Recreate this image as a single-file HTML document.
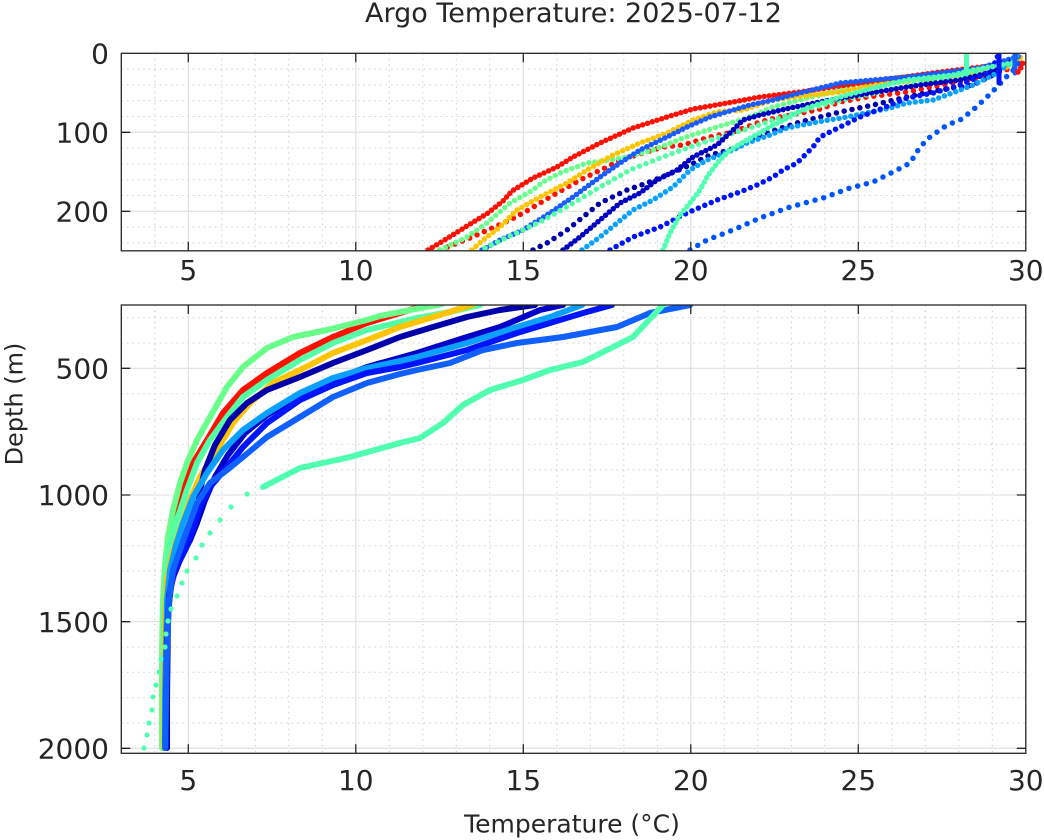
<!DOCTYPE html>
<html><head><meta charset="utf-8"><style>
html,body{margin:0;padding:0;background:#fff;}
svg{display:block;}
text{font-family:"DejaVu Sans","Liberation Sans",sans-serif;fill:#262626;}
</style></head><body>
<svg width="1044" height="840" viewBox="0 0 1044 840" xmlns="http://www.w3.org/2000/svg">
<defs>
<clipPath id="ct"><rect x="121.3" y="53.3" width="904.5" height="197.5"/></clipPath>
<clipPath id="cb"><rect x="121.3" y="305" width="904.5" height="448.3"/></clipPath>
</defs>
<rect width="1044" height="840" fill="#fff"/>

<!-- ===== TOP AXES GRID ===== -->
<g fill="none" stroke="#cdcdcd" stroke-width="1" stroke-dasharray="1.5 4">
<path d="M154.8 53.3V250.8M221.8 53.3V250.8M255.3 53.3V250.8M288.8 53.3V250.8M322.3 53.3V250.8M389.3 53.3V250.8M422.8 53.3V250.8M456.3 53.3V250.8M489.8 53.3V250.8M556.8 53.3V250.8M590.3 53.3V250.8M623.8 53.3V250.8M657.3 53.3V250.8M724.3 53.3V250.8M757.8 53.3V250.8M791.3 53.3V250.8M824.8 53.3V250.8M891.8 53.3V250.8M925.3 53.3V250.8M958.8 53.3V250.8M992.3 53.3V250.8"/>
<path d="M121.3 69.1H1025.8M121.3 84.9H1025.8M121.3 100.7H1025.8M121.3 116.5H1025.8M121.3 148.1H1025.8M121.3 163.9H1025.8M121.3 179.7H1025.8M121.3 195.5H1025.8M121.3 227.1H1025.8M121.3 242.9H1025.8"/>
</g>
<g fill="none" stroke="#dcdcdc" stroke-width="1">
<path d="M188.3 53.3V250.8M355.8 53.3V250.8M523.3 53.3V250.8M690.8 53.3V250.8M858.3 53.3V250.8M121.3 132.3H1025.8M121.3 211.3H1025.8"/>
</g>

<!-- ===== BOTTOM AXES GRID ===== -->
<g fill="none" stroke="#cdcdcd" stroke-width="1" stroke-dasharray="1.5 4">
<path d="M154.8 305V753.3M221.8 305V753.3M255.3 305V753.3M288.8 305V753.3M322.3 305V753.3M389.3 305V753.3M422.8 305V753.3M456.3 305V753.3M489.8 305V753.3M556.8 305V753.3M590.3 305V753.3M623.8 305V753.3M657.3 305V753.3M724.3 305V753.3M757.8 305V753.3M791.3 305V753.3M824.8 305V753.3M891.8 305V753.3M925.3 305V753.3M958.8 305V753.3M992.3 305V753.3"/>
<path d="M121.3 317.7H1025.8M121.3 343H1025.8M121.3 393.7H1025.8M121.3 419H1025.8M121.3 444.3H1025.8M121.3 469.7H1025.8M121.3 520.3H1025.8M121.3 545.7H1025.8M121.3 571H1025.8M121.3 596.3H1025.8M121.3 647H1025.8M121.3 672.3H1025.8M121.3 697.7H1025.8M121.3 723H1025.8"/>
</g>
<g fill="none" stroke="#dcdcdc" stroke-width="1">
<path d="M188.3 305V753.3M355.8 305V753.3M523.3 305V753.3M690.8 305V753.3M858.3 305V753.3M121.3 368.3H1025.8M121.3 495H1025.8M121.3 621.7H1025.8M121.3 748.3H1025.8"/>
</g>

<!-- ===== TOP DATA ===== -->
<g clip-path="url(#ct)" fill="none" stroke-linecap="round" stroke-linejoin="round" stroke-width="5.5">
<polyline stroke="#ff1000" stroke-dasharray="0 8" points="440,250 470,238 490,229 510,220 525,212 550,197 580,180 607,167 620,160 663,147 683,145 710,137 733,132 760,122 780,117 817,110 840,102 867,97 907,92 957,82 1000,72 1020,65 1025,60"/>
<polyline stroke="#6aff8a" stroke-dasharray="0 6" points="440,250 467,237 487,223 510,203 533,190 543,182 560,173 587,163 610,160 627,157 653,150 683,138 717,127 747,118 773,107 807,98 850,88 880,83 913,76 960,74 1000,68 1020,58"/>
<polyline stroke="#ff1000" stroke-dasharray="0 5" points="428,250 443,241 467,226 488,213 503,201 512,191 533,178 557,167 573,157 600,143 633,128 667,117 693,109 733,102 760,97 800,92 840,86 883,80 940,72 997,65 1015,62 1022,56"/>
<polyline stroke="#ffc400" stroke-dasharray="0 5.5" points="472,250 483,240 500,227 517,210 540,197 567,183 587,170 613,155 640,143 667,133 693,120 717,112 743,110 773,100 793,97 840,92 887,83 920,80 973,73 1007,67 1023,56"/>
<polyline stroke="#1a5cff" stroke-dasharray="0 5" points="482,250 500,240 523,230 550,213 573,197 600,177 620,163 640,150 667,137 687,127 710,117 733,110 750,105 773,100 800,93 840,83 873,80 907,77 940,73 980,68 1020,56"/>
<polyline stroke="#55ffa6" stroke-dasharray="0 7" points="485,248 510,236 540,222 570,205 600,187 630,170 660,158 690,147 720,137 750,128 780,118 810,108 850,98 890,90 930,80 970,75 1010,65"/>
<polyline stroke="#0000aa" stroke-dasharray="0 8" points="533,250 547,243 567,230 583,217 600,203 627,190 647,183 667,175 690,165 710,155 730,150 760,135 800,122 840,112 873,105 907,97 940,90 973,85 993,75 1000,62"/>
<polyline stroke="#0000c0" stroke-dasharray="0 5" points="563,250 580,237 600,220 620,203 640,193 657,180 677,170 693,157 717,145 733,130 743,120 760,115 790,108 830,100 870,93 920,85 960,80 1000,70 1015,58"/>
<polyline stroke="#0aa0ff" stroke-dasharray="0 6" points="582,250 600,237 617,223 633,210 653,200 673,187 690,170 707,160 733,150 747,143 770,135 787,128 817,122 847,117 890,108 907,103 933,100 947,95 973,85 997,73 1013,60 1020,53"/>
<polyline stroke="#0014ff" stroke-dasharray="0 7" points="610,250 633,237 660,227 687,213 717,200 740,192 757,185 773,177 783,170 797,163 813,147 820,137 840,127 860,117 883,108 907,98 933,93 960,85 987,73 997,60 998,52"/>
<polyline stroke="#50ffb0" stroke-dasharray="0 5" points="663,250 670,233 680,215 690,203 700,190 707,177 717,163 730,150 747,140 770,127 807,108 840,97 873,88 907,80 953,75 973,70 1013,63"/>
<polyline stroke="#0055ff" stroke-dasharray="0 9" points="690,250 707,240 733,230 760,218 790,207 823,198 850,188 873,182 897,170 910,163 920,147 930,137 947,125 960,120 973,110 987,97 997,87 1010,73 1017,67 1023,57"/>
<line x1="966.5" y1="52" x2="966.5" y2="74" stroke="#50ffb0" stroke-width="5"/>
<line x1="999" y1="52" x2="999" y2="83" stroke="#0014ff" stroke-width="5"/>
<line x1="1015" y1="52" x2="1015" y2="73" stroke="#1a5cff" stroke-width="5"/>
<polyline stroke="#ff1000" stroke-dasharray="0 5" points="1018,72 1022,66 1024,60"/>
</g>

<!-- ===== BOTTOM DATA ===== -->
<g clip-path="url(#cb)" fill="none" stroke-linecap="round" stroke-linejoin="round" stroke-width="6">
<polyline stroke="#ff1000" points="428,304 400,313 367,323 333,337 300,353 267,373 243,390 223,413 207,440 193,463 183,490 175,517 169,540 166,565 164,600 163,650 163,700 163,748"/>
<polyline stroke="#6aff8a" points="442,304 410,310 380,316 363,321 327,330 293,337 267,348 243,367 227,387 210,417 197,440 187,463 180,483 173,510 168,537 165,565 163,600 162,650 162,700 162,748"/>
<polyline stroke="#55ffa6" points="480,305 450,312 417,318 400,322 367,330 333,343 300,360 267,380 243,397 227,417 210,440 197,463 187,490 177,520 170,545 166,575 164,620 163,700 163,748"/>
<polyline stroke="#ffc400" points="472,305 433,317 400,327 367,340 333,353 300,370 273,383 250,403 233,423 217,450 200,477 190,500 180,530 172,555 167,580 165,620 164,700 164,748"/>
<polyline stroke="#0000aa" points="535,305 500,310 467,317 433,327 400,337 367,350 333,363 300,377 267,390 247,403 230,420 215,445 205,470 200,490 198,505 197,523 190,540 183,550 176,565 170,590 168,620 167,700 167,748"/>
<polyline stroke="#0000c8" points="563,305 540,310 500,327 467,337 417,353 367,367 333,380 300,395 267,415 245,433 228,455 215,477 205,500 198,520 190,540 180,560 172,580 168,610 166,700 166,748"/>
<polyline stroke="#0aa0ff" points="582,305 550,317 517,327 467,343 417,357 400,361 367,368 333,378 300,393 267,413 243,430 223,450 207,473 193,497 183,523 176,545 170,570 167,600 165,700 165,748"/>
<polyline stroke="#0014ff" points="612,305 583,313 550,323 517,333 467,350 417,363 400,367 367,373 333,385 300,400 267,423 243,447 227,467 210,487 200,507 193,530 185,550 175,570 169,595 167,640 166,700 166,748"/>
<polyline stroke="#1060ff" points="690,305 650,313 617,327 563,337 517,343 483,350 450,363 417,370 400,374 367,383 333,397 300,417 267,437 243,457 227,470 210,483 197,503 187,530 180,550 173,570 169,600 167,650 166,700 165,748"/>
<polyline stroke="#50ffb0" points="663,305 633,337 583,362 550,370 523,380 490,390 463,405 443,423 420,438 400,443 350,457 300,468 263,487"/>
<g fill="#50ffb0">
<circle cx="247" cy="494" r="2.6"/><circle cx="231" cy="507" r="2.6"/><circle cx="220" cy="520" r="2.6"/><circle cx="210" cy="533" r="2.6"/><circle cx="202" cy="545" r="2.6"/><circle cx="196" cy="558" r="2.6"/><circle cx="187" cy="571" r="2.6"/><circle cx="182" cy="583" r="2.6"/><circle cx="177" cy="596" r="2.6"/><circle cx="171" cy="609" r="2.6"/><circle cx="168" cy="621" r="2.6"/><circle cx="166" cy="634" r="2.6"/><circle cx="165" cy="647" r="2.6"/><circle cx="161" cy="659" r="2.6"/><circle cx="159" cy="672" r="2.6"/><circle cx="156" cy="685" r="2.6"/><circle cx="153" cy="697" r="2.6"/><circle cx="152" cy="710" r="2.6"/><circle cx="149" cy="723" r="2.6"/><circle cx="147" cy="735" r="2.6"/><circle cx="144" cy="748" r="2.6"/>
</g>
</g>

<!-- ===== AXES BOXES & TICKS ===== -->
<g fill="none" stroke="#262626" stroke-width="1.3">
<rect x="121.3" y="53.3" width="904.5" height="197.5"/>
<path d="M188.3 250.8v-9M355.8 250.8v-9M523.3 250.8v-9M690.8 250.8v-9M858.3 250.8v-9M188.3 53.3v9M355.8 53.3v9M523.3 53.3v9M690.8 53.3v9M858.3 53.3v9M121.3 132.3h9M121.3 211.3h9M1025.8 132.3h-9M1025.8 211.3h-9"/>
<rect x="121.3" y="305" width="904.5" height="448.3"/>
<path d="M188.3 753.3v-9M355.8 753.3v-9M523.3 753.3v-9M690.8 753.3v-9M858.3 753.3v-9M188.3 305v9M355.8 305v9M523.3 305v9M690.8 305v9M858.3 305v9M121.3 368.3h9M121.3 495h9M121.3 621.7h9M121.3 748.3h9M1025.8 368.3h-9M1025.8 495h-9M1025.8 621.7h-9M1025.8 748.3h-9"/>
</g>

<!-- ===== TEXT ===== -->
<text x="573.5" y="22" font-size="27" text-anchor="middle">Argo Temperature: 2025-07-12</text>

<g font-size="28" text-anchor="end">
<text x="109" y="63.5">0</text>
<text x="109" y="142.5">100</text>
<text x="109" y="221.5">200</text>
<text x="109" y="378.5">500</text>
<text x="109" y="505.2">1000</text>
<text x="109" y="631.9">1500</text>
<text x="109" y="758.5">2000</text>
</g>
<g font-size="28" text-anchor="middle">
<text x="188.3" y="280">5</text>
<text x="355.8" y="280">10</text>
<text x="523.3" y="280">15</text>
<text x="690.8" y="280">20</text>
<text x="858.3" y="280">25</text>
<text x="1025.8" y="280">30</text>
<text x="188.3" y="790">5</text>
<text x="355.8" y="790">10</text>
<text x="523.3" y="790">15</text>
<text x="690.8" y="790">20</text>
<text x="858.3" y="790">25</text>
<text x="1025.8" y="790">30</text>
</g>

<text x="572" y="832.5" font-size="25" text-anchor="middle">Temperature (°C)</text>
<text transform="translate(22.5,404) rotate(-90)" font-size="24" text-anchor="middle">Depth (m)</text>
</svg>
</body></html>
